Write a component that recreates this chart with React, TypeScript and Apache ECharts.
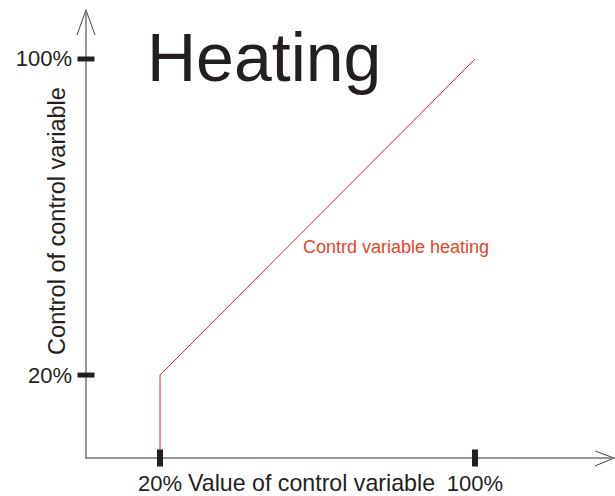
import React, { useEffect, useRef } from "react";
import * as echarts from "echarts";

const lineX = [20, 20, 100];
const lineY = [0, 20, 100];
const tickValues = [20, 100];
const seriesLabel = "Contrd variable heating";
const titleText = "Heating";
const xName = "Value of control variable";
const yName = "Control of control variable";

const X_MIN = 1.2;
const X_MAX = 135.3;
const Y_MIN = -1;
const Y_MAX = 112.4;

export default function App() {
  const ref = useRef<HTMLDivElement>(null);
  useEffect(() => {
    const chart = echarts.init(ref.current!, null, { renderer: "svg" });
    const font = "'Liberation Sans', Arial, sans-serif";
    const dark = "#231f20";
    const axisColor = "#777777";
    chart.setOption({
      animation: false,
      grid: { left: 86, top: 10, right: 1, bottom: 38, containLabel: false },
      xAxis: {
        type: "value",
        min: X_MIN,
        max: X_MAX,
        axisLine: { show: true, onZero: false, lineStyle: { color: axisColor, width: 1.5 } },
        axisTick: { show: false },
        splitLine: { show: false },
        axisLabel: {
          customValues: tickValues,
          formatter: "{value}%",
          fontSize: 22,
          fontFamily: font,
          color: dark,
          margin: 14,
        },
      },
      yAxis: {
        type: "value",
        min: Y_MIN,
        max: Y_MAX,
        axisLine: { show: true, onZero: false, lineStyle: { color: axisColor, width: 1.5 } },
        axisTick: { show: false },
        splitLine: { show: false },
        axisLabel: {
          customValues: tickValues,
          formatter: "{value}%",
          fontSize: 22,
          fontFamily: font,
          color: dark,
          margin: 14,
        },
      },
      series: [
        {
          type: "line",
          data: lineX.map((x, i) => [x, lineY[i]]),
          symbol: "none",
          lineStyle: { color: "#e8202a", width: 1 },
          z: 2,
        },
        {
          type: "scatter",
          data: tickValues.map((v) => [v, Y_MIN]),
          symbol: "rect",
          symbolSize: [6, 17],
          itemStyle: { color: dark, opacity: 1 },
          clip: false,
          z: 5,
        },
        {
          type: "scatter",
          data: tickValues.map((v) => [X_MIN, v]),
          symbol: "rect",
          symbolSize: [17, 5],
          itemStyle: { color: dark, opacity: 1 },
          clip: false,
          z: 5,
        },
      ],
      graphic: [
        {
          type: "text",
          x: 147,
          y: 57,
          style: { text: titleText, fontSize: 68, fontFamily: font, fill: dark, verticalAlign: "middle", align: "left" },
        },
        {
          type: "text",
          x: 188,
          y: 483,
          style: { text: xName, fontSize: 23.2, fontFamily: font, fill: dark, verticalAlign: "middle", align: "left" },
        },
        {
          type: "text",
          x: 57,
          y: 221,
          rotation: Math.PI / 2,
          style: { text: yName, fontSize: 23.5, fontFamily: font, fill: dark, verticalAlign: "middle", align: "center" },
        },
        {
          type: "text",
          x: 303,
          y: 247,
          style: { text: seriesLabel, fontSize: 18, fontFamily: font, fill: "#e8432c", verticalAlign: "middle", align: "left" },
        },
        {
          type: "polyline",
          shape: { points: [[77, 35], [86, 10], [95, 35]] },
          style: { stroke: "#444", lineWidth: 1, fill: null },
        },
        {
          type: "polyline",
          shape: { points: [[595, 451], [614, 458], [595, 466]] },
          style: { stroke: "#444", lineWidth: 1, fill: null },
        },
      ],
    });
    return () => chart.dispose();
  }, []);
  return <div ref={ref} style={{ width: 615, height: 496, position: "absolute", left: 0, top: 0 }} />;
}
